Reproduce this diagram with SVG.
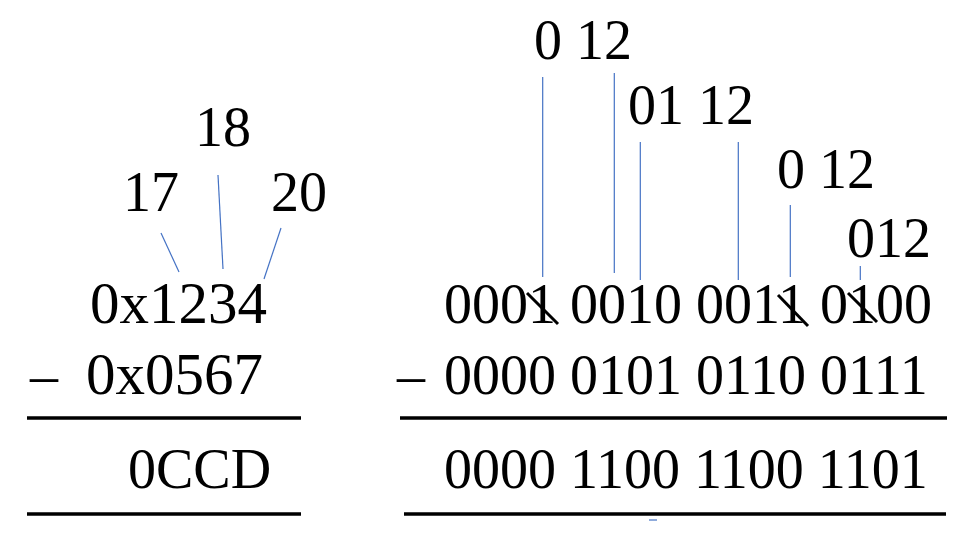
<svg xmlns="http://www.w3.org/2000/svg" width="969" height="540" viewBox="0 0 969 540">
<style>
text{font-family:"Liberation Serif","Times New Roman",serif;font-size:56px;fill:#000}
.big{font-size:59px}
.c{stroke:#4472C4;stroke-width:1.2;fill:none}
.r{stroke:#000;stroke-width:3.5}
.s{stroke:#000;stroke-width:3}
</style>
<rect width="969" height="540" fill="#fff"/>
<g id="left">
<text id="n17" x="123" y="211">17</text>
<text id="n18" x="195" y="146">18</text>
<text id="n20" x="271" y="211">20</text>
<text id="a1" class="big" x="90" y="323">0x1234</text>
<text id="m1" x="30" y="394">–</text>
<text id="a2" class="big" x="86" y="394">0x0567</text>
<text id="res1" x="128" y="488">0CCD</text>
<line class="r" x1="27" y1="418" x2="301" y2="418"/>
<line class="r" x1="27" y1="514" x2="301" y2="514"/>
</g>
<g id="right">
<text id="t1" x="534" y="59">0 12</text>
<text id="t2" x="628" y="124">01 12</text>
<text id="t3" x="777" y="188">0 12</text>
<text id="t4" x="847" y="257">012</text>
<text id="b1" x="444" y="323">0001 0010 0011 0100</text>
<text id="m2" x="397" y="394">–</text>
<text id="b2" x="444" y="394">0000 0101 0110 0111</text>
<text id="res2" x="444" y="488">0000 1100 1100 1101</text>
<line class="r" x1="400" y1="418" x2="947" y2="418"/>
<line class="r" x1="404" y1="514" x2="946" y2="514"/>
<line class="s" x1="527" y1="293" x2="558" y2="324"/>
<line class="s" x1="778" y1="295" x2="808" y2="326"/>
<line class="s" x1="848" y1="293" x2="877" y2="322"/>
</g>
<g id="connectors">
<line class="c" x1="161" y1="233" x2="179" y2="272"/>
<line class="c" x1="218" y1="175" x2="223" y2="269"/>
<line class="c" x1="281" y1="228" x2="264" y2="279"/>
<line class="c" x1="542.7" y1="77" x2="542.7" y2="277"/>
<line class="c" x1="614.3" y1="73" x2="614.3" y2="273"/>
<line class="c" x1="640.3" y1="142" x2="640.3" y2="280"/>
<line class="c" x1="738.3" y1="142" x2="738.3" y2="280"/>
<line class="c" x1="790.3" y1="205" x2="790.3" y2="277"/>
<line class="c" x1="860.3" y1="266" x2="860.3" y2="280"/>
<line class="c" x1="649" y1="520" x2="657" y2="520" stroke-width="1.5"/>
</g>
</svg>
